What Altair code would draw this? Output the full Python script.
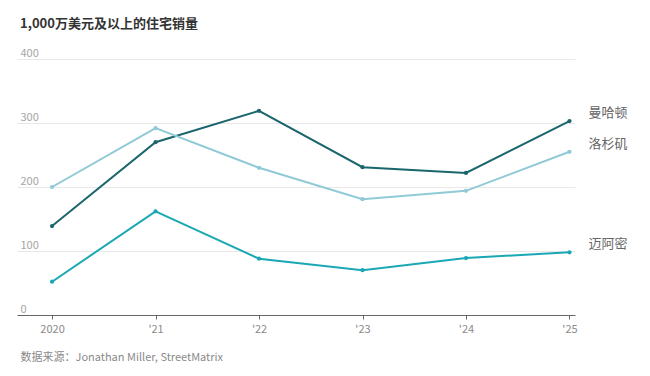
import altair as alt
import pandas as pd

years = ["2020", "'21", "'22", "'23", "'24", "'25"]
cities = ["曼哈顿", "洛杉矶", "迈阿密"]
manhattan = [139, 270, 319, 231, 222, 303]
los_angeles = [200, 292, 230, 181, 194, 255]
miami = [52, 162, 88, 70, 89, 98]
colors = ["#1b666d", "#8fcad6", "#1aa8b4"]
y_ticks = [0, 100, 200, 300, 400]

rows = []
for city, vals in zip(cities, [manhattan, los_angeles, miami]):
    for i, (yr, v) in enumerate(zip(years, vals)):
        rows.append({"year": yr, "city": city, "value": v, "last": i == len(years) - 1})
df = pd.DataFrame(rows)

FONT = "Noto Sans CJK SC"

x_enc = alt.X(
    "year:O",
    sort=years,
    scale=alt.Scale(type="point", padding=0.196, align=0.864),
    axis=alt.Axis(
        title="数据来源：Jonathan Miller, StreetMatrix",
        titleFont=FONT, titleFontSize=11, titleFontWeight="normal", titleColor="#8a8a8a",
        titleAlign="left", titleAnchor="start", titleX=3, titleY=42, titleBaseline="middle",
        labelAngle=0, labelFont=FONT, labelFontSize=11, labelColor="#8a8a8a", labelPadding=4,
        domainColor="#666666", domainWidth=1.2, tickColor="#666666", tickSize=4, grid=False,
    ),
)
y_enc = alt.Y(
    "value:Q",
    scale=alt.Scale(domain=[0, 400], nice=False),
    axis=alt.Axis(
        title=None, values=y_ticks, domain=False, ticks=False, tickSize=0,
        labelAlign="left", labelBaseline="bottom", labelPadding=-3, labelOffset=-1,
        labelFont=FONT, labelFontSize=11, labelColor="#a5a5a5",
        gridColor="#e8e8e8", gridWidth=1,
    ),
)
color_enc = alt.Color("city:N", scale=alt.Scale(domain=cities, range=colors), legend=None)

base = alt.Chart(df).encode(x=x_enc, y=y_enc, color=color_enc)
lines = base.mark_line(strokeWidth=2)
points = base.mark_point(filled=True, size=18, opacity=1)
labels = base.transform_filter("datum.last").mark_text(
    align="left", dx=19, dy=-8, font=FONT, fontSize=13, color="#666666"
).encode(text="city:N", color=alt.value("#666666"))

chart = (lines + points + labels).properties(
    width=558,
    height=256,
    background="white",
    autosize=alt.AutoSizeParams(type="none"),
    padding={"left": 17, "top": 59, "right": 75, "bottom": 61},
    title=alt.TitleParams(
        "1,000万美元及以上的住宅销量", anchor="start", frame="group", dx=3,
        font=FONT, fontSize=13, fontWeight="bold", color="#333333", offset=16,
    ),
).configure_view(strokeWidth=0, stroke=None)

chart.save("out.html", embed_options={"renderer": "svg", "actions": False})
